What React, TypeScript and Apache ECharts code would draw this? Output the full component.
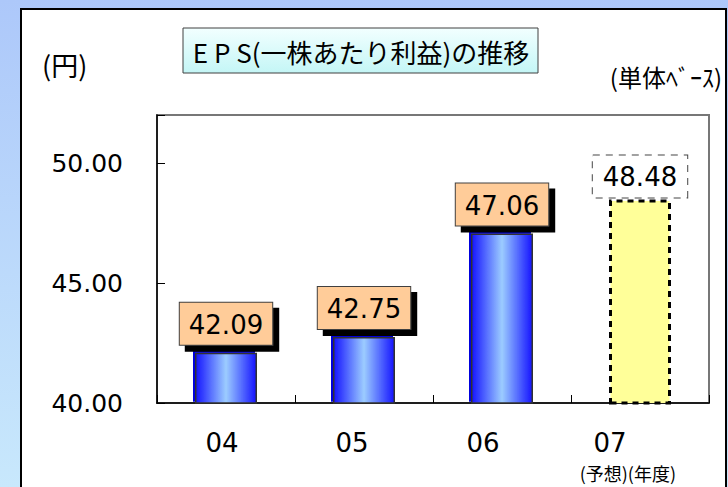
import React, { useEffect, useRef } from "react";
import * as echarts from "echarts";

const categories = ["04", "05", "06", "07"];
const epsValues = [42.09, 42.75, 47.06, 48.48];
const forecastIndex = 3;
const yTicks = { min: 40, max: 52, interval: 5 };
const titleText = "E P S(一株あたり利益)の推移";
const unitText = "(円)";
const basisText = "(単体ﾍﾞｰｽ)";
const footText = "(予想)(年度)";
const labelShift = [8, 24, 38, 60];

const NUM_FONT = "'DejaVu Sans', sans-serif";
const JP_FONT = "'Noto Sans CJK JP', 'Noto Sans', sans-serif";

export default function App() {
  const ref = useRef<HTMLDivElement>(null);
  useEffect(() => {
    if (!ref.current) return;
    const chart = echarts.init(ref.current, null, { renderer: "svg" });
    const blueFill = new echarts.graphic.LinearGradient(0, 0, 1, 0, [
      { offset: 0, color: "#1414ff" },
      { offset: 0.5, color: "#9cccff" },
      { offset: 1, color: "#1414ff" },
    ]);
    const data = epsValues.map((v, i) => {
      if (i === forecastIndex) {
        return {
          value: v,
          itemStyle: {
            color: "#ffff99",
            borderColor: "#000",
            borderWidth: 3,
            borderType: [6, 5],
          },
          label: {
            show: true,
            position: "top",
            distance: 2,
            formatter: (p: any) => Number(p.value).toFixed(2),
            fontSize: 26,
            fontFamily: NUM_FONT,
            color: "#000",
            backgroundColor: "#fff",
            borderColor: "#444",
            borderWidth: 1,
            borderType: [7, 6],
            padding: [9, 10, 7, 10],
          },
        };
      }
      return {
        value: v,
        itemStyle: {
          color: blueFill,
          borderColor: "#333",
          borderWidth: 1.5,
          shadowColor: "#0000dd",
          shadowOffsetX: -2,
          shadowOffsetY: -2,
          shadowBlur: 0,
        },
        label: {
          show: true,
          position: "top",
          distance: 8,
          formatter: (p: any) => Number(p.value).toFixed(2),
          fontSize: 26,
          fontFamily: NUM_FONT,
          color: "#000",
          backgroundColor: "#ffcc99",
          borderColor: "#404040",
          borderWidth: 1,
          padding: [9, 9, 7, 9],
          shadowColor: "#000",
          shadowOffsetX: 6,
          shadowOffsetY: 6,
          shadowBlur: 0,
        },
      };
    });
    const rich: any = {};
    labelShift.forEach((s, i) => {
      rich["c" + i] = {
        fontSize: 26,
        fontFamily: NUM_FONT,
        color: "#000",
        padding: [0, s, 0, 0],
      };
    });
    chart.setOption({
      animation: false,
      backgroundColor: "transparent",
      grid: {
        left: 157,
        top: 115,
        right: 19,
        bottom: 84,
        show: true,
        borderColor: "#777",
        borderWidth: 2,
        backgroundColor: "transparent",
      },
      xAxis: {
        type: "category",
        data: categories,
        axisLine: { show: true, lineStyle: { color: "#000", width: 1.5 } },
        axisTick: { show: true, inside: true, length: 8, lineStyle: { color: "#000" } },
        axisLabel: {
          margin: 27,
          formatter: (v: string, i: number) => `{c${i}|${v}}`,
          rich,
        },
        splitLine: { show: false },
      },
      yAxis: {
        type: "value",
        min: yTicks.min,
        max: yTicks.max,
        interval: yTicks.interval,
        axisLine: { show: true, lineStyle: { color: "#000", width: 1.5 } },
        axisTick: { show: true, inside: true, length: 8, lineStyle: { color: "#000" } },
        axisLabel: {
          margin: 34,
          fontSize: 25,
          fontFamily: NUM_FONT,
          color: "#000",
          formatter: (v: number) => (v % yTicks.interval === 0 ? v.toFixed(2) : ""),
        },
        splitLine: { show: false },
      },
      series: [
        {
          type: "bar",
          data,
          barWidth: 62,
        },
      ],
      graphic: [
        {
          type: "rect",
          z: -100,
          silent: true,
          shape: { x: 21, y: 9, width: 705, height: 490 },
          style: { fill: "#fff", stroke: "#000", lineWidth: 2 },
        },
        {
          type: "rect",
          z: 10,
          silent: true,
          shape: { x: 183, y: 28, width: 355, height: 45 },
          style: {
            fill: new echarts.graphic.LinearGradient(0, 0, 0, 1, [
              { offset: 0, color: "#f2ffff" },
              { offset: 1, color: "#c4f6f6" },
            ]),
            stroke: "#404040",
            lineWidth: 1,
          },
        },
        {
          type: "text",
          z: 11,
          silent: true,
          x: 361,
          y: 51,
          style: {
            text: titleText,
            fontSize: 26,
            fontFamily: JP_FONT,
            fill: "#000",
            align: "center",
            verticalAlign: "middle",
          },
        },
        {
          type: "text",
          z: 11,
          silent: true,
          x: 42,
          y: 64,
          style: {
            text: unitText,
            fontSize: 27,
            fontFamily: JP_FONT,
            fill: "#000",
            align: "left",
            verticalAlign: "middle",
          },
        },
        {
          type: "text",
          z: 11,
          silent: true,
          x: 722,
          y: 76,
          style: {
            text: basisText,
            fontSize: 24,
            fontFamily: JP_FONT,
            fill: "#000",
            align: "right",
            verticalAlign: "middle",
          },
        },
        {
          type: "text",
          z: 11,
          silent: true,
          x: 676,
          y: 473,
          style: {
            text: footText,
            fontSize: 18,
            lineHeight: 20,
            fontFamily: JP_FONT,
            fill: "#000",
            align: "right",
            verticalAlign: "middle",
          },
        },
      ],
    });
    return () => chart.dispose();
  }, []);
  return (
    <div
      ref={ref}
      style={{
        position: "fixed",
        left: 0,
        top: 0,
        width: 728,
        height: 487,
        background: "linear-gradient(180deg, #adc8fa 0%, #c8e8fc 100%)",
      }}
    />
  );
}
